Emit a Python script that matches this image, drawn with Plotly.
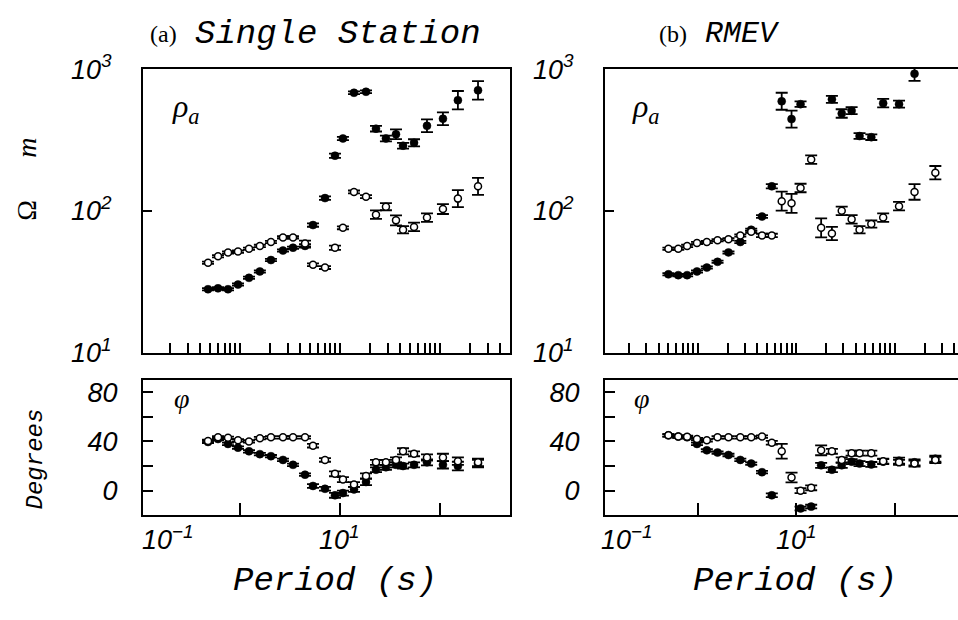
import plotly.graph_objects as go

# ---------------- data: (a) Single Station ----------------
periods_a = [0.479, 0.603, 0.759, 0.955, 1.23, 1.58, 2.04, 2.69, 3.39, 4.47, 5.37, 7.08, 8.91,
             10.7, 13.8, 18.2, 22.9, 28.8, 36.3, 42.7, 55.0, 74.1, 107, 151, 240]
rho_open_a = [43.0, 47.9, 50.9, 51.6, 54.1, 56.6, 60.3, 65.0, 65.0, 58.9, 41.7, 39.8, 55.0,
              75.9, 136, 126, 94.0, 107, 85.7, 73.6, 77.1, 89.7, 103, 122, 149]
rho_open_err_a = [0.008, 0.008, 0.008, 0.008, 0.008, 0.008, 0.008, 0.008, 0.008, 0.02, 0.01, 0.01, 0.015,
                  0.01, 0.01, 0.01, 0.03, 0.025, 0.035, 0.025, 0.03, 0.03, 0.035, 0.06, 0.06]
rho_fill_a = [28.0, 28.4, 28.0, 30.2, 33.7, 37.4, 45.0, 52.5, 55.0, 56.6, 79.4, 123, 245,
              324, 681, 692, 380, 324, 347, 288, 302, 398, 447, 603, 708]
rho_fill_err_a = [0.008, 0.008, 0.008, 0.008, 0.008, 0.008, 0.008, 0.008, 0.008, 0.012, 0.012, 0.012, 0.015,
                  0.012, 0.01, 0.01, 0.02, 0.02, 0.035, 0.02, 0.025, 0.045, 0.045, 0.065, 0.065]
phase_open_a = [40.4, 43.4, 43, 41, 40, 42.7, 43.4, 43.4, 43.4, 43.4, 36.6, 25, 13.7,
                9, 5, 12, 23, 23, 25, 32, 30, 27, 27, 24, 23]
phase_open_err_a = [1, 1, 1, 1, 1, 1, 1, 1, 1, 1, 1.5, 1.5, 2,
                    2, 2, 2, 2, 2, 2, 2.5, 2, 2.5, 3, 3, 3]
phase_fill_a = [39.6, 42, 38, 35, 32, 29.7, 28, 25, 21, 13, 3.8, 1.5, -3.8,
                -2, 1, 7, 17, 19, 21, 20, 21, 23, 21, 20, 22]
phase_fill_err_a = [1, 1, 1, 1, 1, 1, 1, 1, 1, 1, 1.5, 1.5, 2,
                    2, 2, 2.5, 2, 2, 2, 2, 2, 2.5, 3, 3.5, 3]

# ---------------- data: (b) RMEV ----------------
periods_b = [0.501, 0.631, 0.776, 0.977, 1.23, 1.58, 2.04, 2.69, 3.47, 4.47, 5.62, 7.08, 8.91,
             11.0, 14.1, 17.8, 22.9, 28.8, 36.3, 43.7, 57.5, 75.9, 110, 158, 257]
rho_open_b = [54.1, 54.1, 56.6, 59.3, 60.3, 62.1, 63.1, 67.1, 71.3, 67.1, 67.1, 117, 113,
              145, 230, 75.9, 69.2, 100, 87.1, 73.6, 80.7, 89.7, 108, 136, 186]
rho_open_err_b = [0.008, 0.008, 0.008, 0.008, 0.008, 0.008, 0.008, 0.008, 0.008, 0.012, 0.012, 0.067, 0.067,
                  0.03, 0.03, 0.067, 0.047, 0.03, 0.03, 0.025, 0.025, 0.03, 0.03, 0.055, 0.047]
rho_fill_b = [35.7, 35.2, 35.2, 37.4, 39.8, 43.7, 50.9, 60.3, 73.6, 91.2, 149, 593, 444,
              566, None, None, 612, 486, 509, 337, 331, 575, 566, 927, None]
rho_fill_err_b = [0.008, 0.008, 0.008, 0.008, 0.008, 0.008, 0.008, 0.008, 0.008, 0.01, 0.015, 0.06, 0.06,
                  0.02, 0, 0, 0.025, 0.03, 0.025, 0.02, 0.02, 0.03, 0.025, 0.05, 0]
phase_open_b = [45, 44, 43.8, 42, 41, 43.4, 43.4, 43.4, 43.4, 44, 39, 32, 10.7,
                0, 2.3, 32.8, 32, 25, 30.5, 30.5, 30.5, 24, 23, 22, 25]
phase_open_err_b = [1, 1, 1, 1, 1, 1, 1, 1, 1, 1, 1.5, 6, 4,
                    2, 2, 4, 2, 2, 2, 2, 2, 2, 2, 2.5, 2.5]
phase_fill_b = [45, 44, 43.4, 38, 32.8, 31, 29, 25, 22, 15, -3.8, None, None,
                -14.5, -13, 20.6, 17, 20.6, 23.6, 22, 21.3, 23.6, 24.4, 23, 26]
phase_fill_err_b = [1, 1, 1, 1, 1, 1, 1, 1, 1, 1, 1.5, 0, 0,
                    1.5, 1.5, 2, 2, 2, 2, 2, 2, 2, 2.5, 2.5, 2.5]

W, H = 958, 620
XRANGE_A = [-0.97, 2.7]
XRANGE_B = [-0.944, 2.64]
DOM_A = [143 / W, 510 / W]
DOM_B = [605 / W, 1.0]
DOM_TOP = [1 - 353 / H, 1 - 53 / H]
DOM_BOT = [1 - 525 / H, 1 - 382 / H]


def log_err(vals, errs):
    plus, minus = [], []
    for v, e in zip(vals, errs):
        if v is None:
            plus.append(0)
            minus.append(0)
        else:
            plus.append(v * (10 ** e - 1))
            minus.append(v * (1 - 10 ** (-e)))
    return plus, minus


def px(x):
    return x / W


def py(y):
    return 1 - y / H


fig = go.Figure()

EB = dict(color="black", thickness=1.8, width=6)
OPEN_M = dict(symbol="circle", size=7, color="white", line=dict(color="black", width=1.5))
FILL_M = dict(symbol="circle", size=8, color="black", line=dict(color="black", width=0.5))


def add_panel(periods, r_open, r_open_e, r_fill, r_fill_e, p_open, p_open_e, p_fill, p_fill_e, xt, yt, xb, yb):
    pl, mi = log_err(r_fill, r_fill_e)
    fig.add_trace(go.Scatter(x=periods, y=r_fill, mode="markers", marker=FILL_M,
                             error_y=dict(type="data", symmetric=False, array=pl, arrayminus=mi, **EB),
                             xaxis=xt, yaxis=yt, showlegend=False))
    pl, mi = log_err(r_open, r_open_e)
    fig.add_trace(go.Scatter(x=periods, y=r_open, mode="markers", marker=OPEN_M,
                             error_y=dict(type="data", symmetric=False, array=pl, arrayminus=mi, **EB),
                             xaxis=xt, yaxis=yt, showlegend=False))
    fig.add_trace(go.Scatter(x=periods, y=p_fill, mode="markers", marker=FILL_M,
                             error_y=dict(type="data", array=p_fill_e, **EB),
                             xaxis=xb, yaxis=yb, showlegend=False))
    fig.add_trace(go.Scatter(x=periods, y=p_open, mode="markers", marker=OPEN_M,
                             error_y=dict(type="data", array=p_open_e, **EB),
                             xaxis=xb, yaxis=yb, showlegend=False))


add_panel(periods_a, rho_open_a, rho_open_err_a, rho_fill_a, rho_fill_err_a,
          phase_open_a, phase_open_err_a, phase_fill_a, phase_fill_err_a, "x", "y", "x2", "y2")
add_panel(periods_b, rho_open_b, rho_open_err_b, rho_fill_b, rho_fill_err_b,
          phase_open_b, phase_open_err_b, phase_fill_b, phase_fill_err_b, "x3", "y3", "x4", "y4")

minor_ticks = [n * 10 ** k for k in range(-1, 3) for n in range(1, 10)] + [1000]
TICKFONT = dict(family="Liberation Sans", size=27, color="black", style="italic")
LINE = dict(showline=True, linecolor="black", linewidth=2, showgrid=False, zeroline=False,
            ticks="inside", tickcolor="black", tickwidth=1.5)

xtop = dict(type="log", tickvals=minor_ticks, ticklen=10, showticklabels=False, mirror=True, **LINE)
xbot = dict(type="log", tickvals=[1, 10, 100], ticklen=12, showticklabels=False, mirror=True, **LINE)
ytop = dict(type="log", range=[1, 3], tickvals=[10, 100, 1000],
            ticktext=["10<sup>1</sup>", "10<sup>2</sup>", "10<sup>3</sup>"],
            ticklen=9, tickfont=TICKFONT, ticklabelstandoff=24, **LINE)
ybot = dict(range=[-20, 90], tickvals=[0, 40, 80], ticktext=["0", "40", "80"],
            minor=dict(tickvals=[20, 60], ticks="inside", ticklen=10, tickcolor="black",
                       tickwidth=1.5, showgrid=False),
            ticklen=10, tickfont=TICKFONT, ticklabelstandoff=18, **LINE)

fig.update_layout(
    width=W, height=H, margin=dict(l=0, r=0, t=0, b=0),
    paper_bgcolor="white", plot_bgcolor="white",
    xaxis=dict(domain=DOM_A, range=XRANGE_A, anchor="y", **xtop),
    yaxis=dict(domain=DOM_TOP, anchor="x", mirror=True, **ytop),
    xaxis2=dict(domain=DOM_A, range=XRANGE_A, anchor="y2", **xbot),
    yaxis2=dict(domain=DOM_BOT, anchor="x2", mirror=True, **ybot),
    xaxis3=dict(domain=DOM_B, range=XRANGE_B, anchor="y3", **xtop),
    yaxis3=dict(domain=DOM_TOP, anchor="x3", mirror=False, **ytop),
    xaxis4=dict(domain=DOM_B, range=XRANGE_B, anchor="y4", **xbot),
    yaxis4=dict(domain=DOM_BOT, anchor="x4", mirror=False, **ybot),
)


def ann(text, x, y, size, family, xanchor="center", angle=0, style="normal"):
    fig.add_annotation(text=text, x=x, y=y, xref="paper", yref="paper", showarrow=False,
                       xanchor=xanchor, yanchor="middle", textangle=angle,
                       font=dict(family=family, size=size, color="black", style=style))


def xpaper(logT, dom, rng):
    return dom[0] + (dom[1] - dom[0]) * (logT - rng[0]) / (rng[1] - rng[0])


# titles
ann("(a)", px(148), py(16), 24, "Liberation Serif", xanchor="left")
ann("Single Station", px(193), py(16), 34, "Liberation Mono", xanchor="left", style="italic")
ann("(b)", px(657), py(16), 24, "Liberation Serif", xanchor="left")
ann("RMEV", px(703), py(16), 30, "Liberation Mono", xanchor="left", style="italic")

# panel symbols
for x0 in (170, 630):
    ann("<i>ρ</i><sub><i>a</i></sub>", px(x0), py(95), 32, "Liberation Serif", xanchor="left")
    ann("<i>φ</i>", px(x0 + 2), py(402), 28, "Liberation Serif", xanchor="left")

# axis titles
ann("Ω\u00a0\u00a0\u00a0\u00a0\u00a0\u00a0<i>m</i>", px(27), py(170), 28, "Liberation Serif", angle=-90)
ann("Degrees", px(35), py(466), 24, "Liberation Mono", angle=-90, style="italic")

# x tick labels and titles
for dom, rng, xc in ((DOM_A, XRANGE_A, 335), (DOM_B, XRANGE_B, 795)):
    ann("10<sup>−1</sup>", xpaper(-1, dom, rng), py(549), 27, "Liberation Sans", xanchor="left", style="italic")
    ann("10<sup>1</sup>", xpaper(1, dom, rng), py(549), 27, "Liberation Sans", style="italic")
    ann("Period (s)", px(xc), py(595), 34, "Liberation Mono", style="italic")

fig.write_html("out.html")
